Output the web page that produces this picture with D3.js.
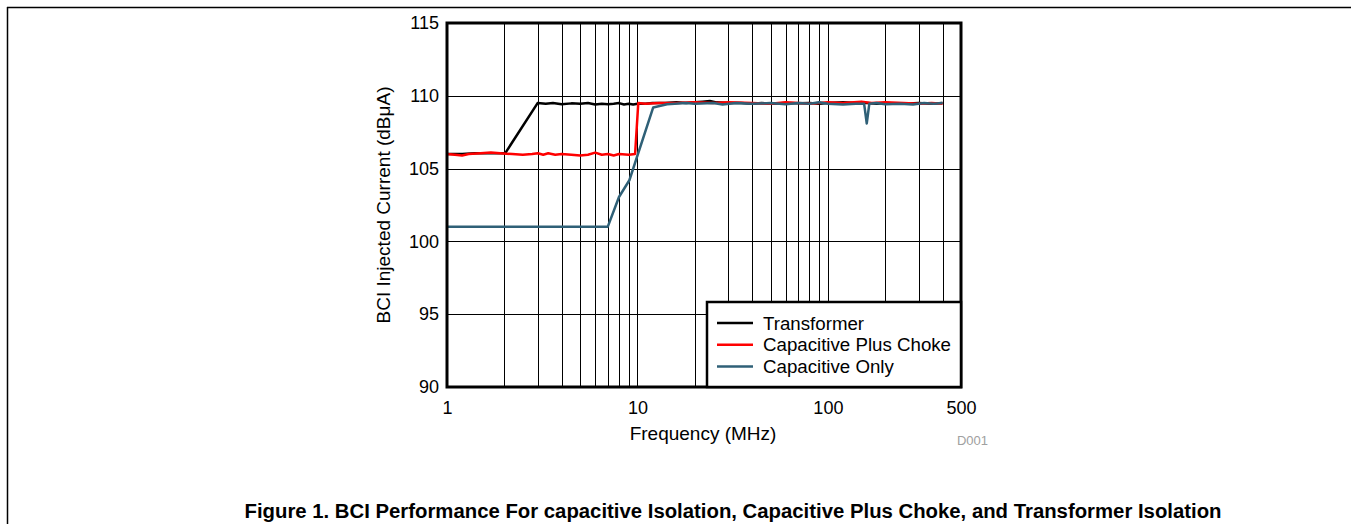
<!DOCTYPE html>
<html><head><meta charset="utf-8">
<script src="https://cdn.jsdelivr.net/npm/d3@7"></script>
<style>body{margin:0;background:#fff;}svg{display:block;font-family:"Liberation Sans",Arial,sans-serif;}</style>
</head><body>
<svg id="c" width="1351" height="524"></svg>
<script>
const xTicks = [1, 10, 100, 500];
const yTicks = [90, 95, 100, 105, 110, 115];
const xGrid = [2,3,4,5,6,7,8,9,10,20,30,40,50,60,70,80,90,100,200,300,400];
const seriesNames = ["Transformer", "Capacitive Plus Choke", "Capacitive Only"];
const seriesColors = ["#000000", "#ff0000", "#2f6077"];

const transformerFreq = [1,1.2,1.4,1.6,1.8,2.02,2.99,3.3,3.6,4,4.5,5,5.5,6,6.5,7,7.5,8,8.5,9,9.5,10,11,12,14,16,18,20,22,24,26,30,35,40,45,50,60,70,80,90,100,120,140,160,180,200,250,300,350,400];
const transformerVal = [106.0,106.0,106.05,106.05,106.05,106.05,109.5,109.45,109.5,109.42,109.48,109.45,109.5,109.4,109.45,109.42,109.45,109.5,109.4,109.45,109.4,109.45,109.45,109.5,109.5,109.55,109.5,109.55,109.6,109.65,109.55,109.5,109.5,109.45,109.5,109.45,109.5,109.48,109.5,109.45,109.5,109.55,109.5,109.5,109.45,109.5,109.45,109.5,109.45,109.5];

const chokeFreq = [1,1.1,1.2,1.3,1.5,1.7,1.9,2.2,2.5,2.8,3.0,3.2,3.4,3.7,4,4.5,5,5.5,6,6.5,7,7.5,8,9,9.72,10.1,11,13,16,20,25,30,40,50,60,70,80,100,120,150,170,200,250,300,350,400];
const chokeVal = [106.0,105.95,105.9,106.0,106.05,106.1,106.05,106.0,105.95,106.0,106.05,105.95,106.05,105.95,106.0,105.95,105.9,105.95,106.1,105.95,106.0,105.9,106.0,105.95,106.0,109.5,109.45,109.5,109.5,109.55,109.5,109.55,109.5,109.45,109.55,109.5,109.45,109.55,109.5,109.6,109.5,109.55,109.5,109.45,109.5,109.45];

const capFreq = [1,6.98,8.0,9.07,12.1,14.3,18,20,25,28,33,40,50,60,70,80,90,100,120,140,155,160,165,180,200,240,280,320,360,400];
const capVal = [101.0,101.0,103.05,104.2,109.2,109.42,109.5,109.45,109.5,109.4,109.5,109.45,109.5,109.42,109.5,109.45,109.55,109.45,109.4,109.45,109.45,108.1,109.45,109.5,109.42,109.45,109.4,109.5,109.45,109.5];

const svg = d3.select("#c");
const L = 447, R = 961, T = 23, B = 387;
const x = d3.scaleLog().domain([1, 500]).range([L, R]);
const y = d3.scaleLinear().domain([90, 115]).range([B, T]);

// outer page frame
svg.append("line").attr("x1",7).attr("x2",1351).attr("y1",7.5).attr("y2",7.5).attr("stroke","#000").attr("stroke-width",1.5);
svg.append("line").attr("x1",7.5).attr("x2",7.5).attr("y1",7).attr("y2",524).attr("stroke","#000").attr("stroke-width",1.5);

// grid
const g = svg.append("g");
g.selectAll(".vg").data(xGrid).enter().append("line")
  .attr("x1", d => Math.round(x(d))+0.5).attr("x2", d => Math.round(x(d))+0.5)
  .attr("y1", T).attr("y2", B).attr("stroke", "#000").attr("stroke-width", 1);
g.selectAll(".hg").data(yTicks.slice(1,-1)).enter().append("line")
  .attr("y1", d => Math.round(y(d))+0.5).attr("y2", d => Math.round(y(d))+0.5)
  .attr("x1", L).attr("x2", R).attr("stroke", "#000").attr("stroke-width", 1);

// axes (labels only)
const xAxis = svg.append("g").attr("transform", `translate(0,${B})`)
  .call(d3.axisBottom(x).tickValues(xTicks).tickFormat(d3.format("d")).tickSize(0).tickPadding(14));
const yAxis = svg.append("g").attr("transform", `translate(${L},0)`)
  .call(d3.axisLeft(y).tickValues(yTicks).tickSize(0).tickPadding(8));
[xAxis, yAxis].forEach(a => {
  a.select(".domain").remove();
  a.selectAll("text").attr("font-size", 18).attr("fill", "#000").attr("font-family", "Liberation Sans, Arial, sans-serif");
});

// lines
const line = d3.line().x(d => x(d[0])).y(d => y(d[1]));
const series = [
  d3.zip(transformerFreq, transformerVal),
  d3.zip(chokeFreq, chokeVal),
  d3.zip(capFreq, capVal)
];
series.forEach((s, i) => {
  svg.append("path").attr("d", line(s)).attr("fill", "none")
    .attr("stroke", seriesColors[i]).attr("stroke-width", 2.5).attr("stroke-linejoin", "round");
});

// plot frame
svg.append("rect").attr("x", L).attr("y", T).attr("width", R-L).attr("height", B-T)
  .attr("fill", "none").attr("stroke", "#000").attr("stroke-width", 3);

// legend
const lg = svg.append("g");
lg.append("rect").attr("x", 707).attr("y", 302).attr("width", R-707).attr("height", B-302)
  .attr("fill", "#fff").attr("stroke", "#000").attr("stroke-width", 2.5);
seriesNames.forEach((n, i) => {
  const yy = 323 + i*21.7;
  lg.append("line").attr("x1", 717).attr("x2", 753).attr("y1", yy).attr("y2", yy)
    .attr("stroke", seriesColors[i]).attr("stroke-width", 2.5);
  lg.append("text").attr("x", 763).attr("y", yy + 6.5).attr("font-size", 18.7).text(n);
});

// titles
svg.append("text").attr("x", 703).attr("y", 440).attr("text-anchor", "middle").attr("font-size", 19).text("Frequency (MHz)");
svg.append("text").attr("transform", "translate(390,205) rotate(-90)").attr("text-anchor", "middle").attr("font-size", 19).text("BCI Injected Current (dBμA)");
svg.append("text").attr("x", 988).attr("y", 445).attr("text-anchor", "end").attr("font-size", 13).attr("fill", "#a0a0a0").text("D001");
svg.append("text").attr("x", 733).attr("y", 518).attr("text-anchor", "middle").attr("font-size", 19.5).attr("font-weight", "bold")
  .attr("textLength", 977).attr("lengthAdjust", "spacingAndGlyphs")
  .text("Figure 1. BCI Performance For capacitive Isolation, Capacitive Plus Choke, and Transformer Isolation");
</script>
</body></html>
